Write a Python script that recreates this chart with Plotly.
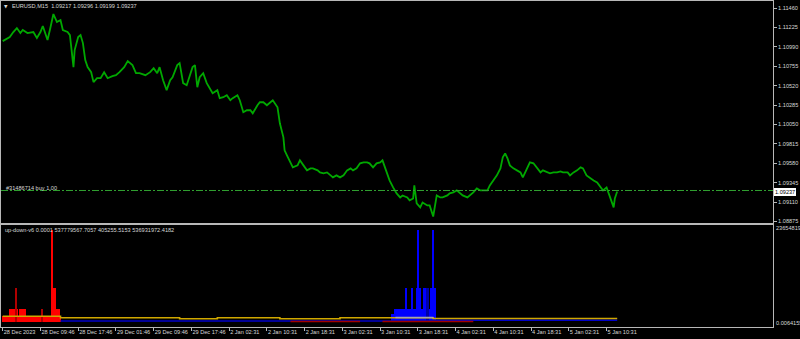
import plotly.graph_objects as go

# ---------------- data ----------------
symbol_text = "EURUSD,M15  1.09217 1.09296 1.09199 1.09237"
order_text = "#31486714 buy 1.00"
indicator_text = "up-down-v6 0.0001 537779567.7057 405255.5153 536931972.4182"

# price path (bar index, close)
price_bar = [0, 6, 9, 12, 15, 17, 21, 26, 29, 32, 34, 38, 40, 43, 46, 49, 51, 55, 57, 60,
             61, 64, 66, 68, 70, 72, 75, 77, 80, 83, 86, 89, 93, 96, 99, 103, 106, 110, 113, 116,
             121, 125, 128, 131, 133, 136, 139, 142, 144, 148, 150, 153, 156, 159, 161, 163, 165,
             167, 170, 173, 176, 178, 182, 184, 187, 190, 193, 195, 199, 201, 204, 207, 210, 212,
             216, 218, 221, 224, 227, 229, 233, 235, 238, 239, 241, 244, 246, 250, 252, 255, 258,
             261, 263, 267, 269, 272, 275, 278, 280, 283, 286, 289, 292, 295, 297, 300, 303, 306,
             309, 311, 314, 317, 320, 322,
             326, 328, 331, 334, 337, 339, 343, 345, 348, 349, 351, 354, 356, 360, 362, 365, 368,
             371, 373, 377, 379, 382, 385, 388, 390, 394, 396, 399, 402, 405, 407, 411, 413, 416,
             419, 422, 424, 426, 428, 430, 433, 436, 439, 441, 445, 447, 450, 453, 456, 458, 462,
             464, 467, 470, 473, 475, 479, 481, 484, 487, 490, 492, 495, 498, 501, 504, 507, 509,
             512, 515, 518, 519, 521]
price_val = [1.11059, 1.11108, 1.11169, 1.11217, 1.11157, 1.11193, 1.11157, 1.11169, 1.11096, 1.11169,
             1.11242, 1.11072, 1.11193, 1.11387, 1.11290, 1.11314, 1.11193, 1.11169, 1.11132, 1.10744,
             1.10950, 1.11108, 1.11132, 1.11035, 1.10829, 1.10744, 1.10683, 1.10562, 1.10610, 1.10610,
             1.10683, 1.10610, 1.10635, 1.10647, 1.10683, 1.10744, 1.10817, 1.10768, 1.10671, 1.10671,
             1.10647, 1.10683, 1.10732, 1.10671, 1.10744, 1.10586, 1.10465, 1.10586, 1.10622, 1.10768,
             1.10792, 1.10550, 1.10525, 1.10647, 1.10744, 1.10768, 1.10501,
             1.10622, 1.10671, 1.10550, 1.10465, 1.10428, 1.10465, 1.10368, 1.10380, 1.10404, 1.10343,
             1.10368, 1.10404, 1.10343, 1.10198, 1.10222, 1.10222, 1.10185, 1.10283, 1.10319, 1.10319,
             1.10283, 1.10319, 1.10343, 1.10258, 1.10064, 1.09894, 1.09736, 1.09676, 1.09591, 1.09530,
             1.09554, 1.09615, 1.09554, 1.09494, 1.09518, 1.09518, 1.09494, 1.09469, 1.09457, 1.09469,
             1.09433, 1.09409, 1.09433, 1.09409, 1.09433, 1.09494, 1.09518, 1.09494, 1.09518, 1.09579,
             1.09591, 1.09591, 1.09579, 1.09530, 1.09579, 1.09591, 1.09615,
             1.09457, 1.09372, 1.09287, 1.09215, 1.09166, 1.09190, 1.09166, 1.09130, 1.09154, 1.09312,
             1.09093, 1.09045, 1.09105, 1.09069, 1.09069, 1.08935, 1.09190, 1.09166, 1.09166, 1.09190,
             1.09215, 1.09227, 1.09251, 1.09215, 1.09190, 1.09166, 1.09190, 1.09227, 1.09275, 1.09251,
             1.09251, 1.09251, 1.09312, 1.09372, 1.09433, 1.09518, 1.09651, 1.09700, 1.09639, 1.09554,
             1.09518, 1.09494, 1.09469, 1.09409, 1.09518, 1.09591, 1.09579, 1.09530, 1.09469, 1.09494,
             1.09469, 1.09457, 1.09469, 1.09469, 1.09481, 1.09469, 1.09469, 1.09433, 1.09469, 1.09494,
             1.09530, 1.09518, 1.09433, 1.09397, 1.09372, 1.09348, 1.09287, 1.09251, 1.09287, 1.09166,
             1.09045, 1.09154, 1.09237]

bid_price = 1.09237
order_price = 1.09250

price_ticks = [1.11460, 1.11225, 1.10990, 1.10755, 1.10520, 1.10285, 1.10050,
               1.09815, 1.09580, 1.09345, 1.09110, 1.08875]

time_label_bars = [0, 32, 64, 96, 128, 160, 192, 224, 256, 288, 320, 352, 384, 416, 448, 480, 512]
time_labels = ["28 Dec 2023", "28 Dec 09:46", "28 Dec 17:46", "29 Dec 01:46", "29 Dec 09:46",
               "29 Dec 17:46", "2 Jan 02:31", "2 Jan 10:31", "2 Jan 18:31", "3 Jan 02:31",
               "3 Jan 10:31", "3 Jan 18:31", "4 Jan 02:31", "4 Jan 10:31", "4 Jan 18:31",
               "5 Jan 02:31", "5 Jan 10:31"]

sub_max = 236548195
sub_max_label = "236548195"
sub_min_label = "0.0064155"
hist_base = 12.0e6

# histogram blocks: (first bar, last bar, value)
red_blocks = [(0, 49, 25e6), (6, 12, 41.7e6), (15, 19, 41.7e6), (42, 42, 225e6),
              (43, 44, 90e6), (43, 46, 41.7e6), (48, 48, 41.7e6)]
darkred_blocks = [(11, 11, 90e6), (33, 33, 41.7e6)]
blue_blocks = [(330, 332, 30e6), (333, 338, 41.7e6), (339, 342, 41.7e6), (342, 342, 90e6),
               (344, 354, 41.7e6), (347, 347, 90e6), (351, 354, 90e6), (352, 352, 225e6),
               (355, 367, 41.7e6), (357, 359, 90e6), (363, 367, 90e6), (365, 365, 225e6)]
darkblue_blocks = [(360, 361, 90e6)]

# indicator lines (step points)
gold_bar = [0, 49, 150, 182, 235, 286, 365, 521]
gold_val = [23.9e6, 20.2e6, 17.9e6, 20.2e6, 17.9e6, 20.2e6, 18.6e6, 18.6e6]
gray_bar = [333, 365]
gray_val = [20.9e6, 20.9e6]
blue_line_bar = [49, 365, 521]
blue_line_val = [12.8e6, 14.6e6, 14.6e6]
red_line_segments = [([244, 303], [11.6e6, 11.6e6]), ([322, 399], [11.6e6, 11.6e6])]


def expand(blocks):
    vals = {}
    for a, b, v in blocks:
        for i in range(a, b + 1):
            vals[i] = max(vals.get(i, 0), v)
    xs = sorted(vals)
    return xs, [vals[i] - hist_base for i in xs]


# ---------------- figure ----------------
W, H = 800, 339
FONT = "Liberation Sans"
FS = 5.6
TXT = "#d8d8d8"
BORDER = "#b8b8b8"


def py(pix):
    return 1 - pix / H


fig = go.Figure()

fig.add_trace(go.Scatter(x=price_bar, y=price_val, mode="lines",
                         line=dict(color="#00a800", width=1.8), xaxis="x", yaxis="y",
                         hoverinfo="skip"))

for blocks, col in [(red_blocks, "#ff0000"), (darkred_blocks, "#b00000"),
                    (blue_blocks, "#0000ff"), (darkblue_blocks, "#0000a8")]:
    bx, bv = expand(blocks)
    fig.add_trace(go.Bar(x=bx, y=bv, base=hist_base, width=1.0, marker=dict(color=col, line=dict(width=0)),
                         xaxis="x2", yaxis="y2", hoverinfo="skip"))

fig.add_trace(go.Scatter(x=blue_line_bar, y=blue_line_val, mode="lines", line_shape="hv",
                         line=dict(color="#0000c8", width=1.5), xaxis="x2", yaxis="y2"))
for sx, sy in red_line_segments:
    fig.add_trace(go.Scatter(x=sx, y=sy, mode="lines", line=dict(color="#a00000", width=1.5),
                             xaxis="x2", yaxis="y2"))
fig.add_trace(go.Scatter(x=gold_bar, y=gold_val, mode="lines", line_shape="hv",
                         line=dict(color="#d0a800", width=1.6), xaxis="x2", yaxis="y2"))
fig.add_trace(go.Scatter(x=gray_bar, y=gray_val, mode="lines",
                         line=dict(color="#a8a8a8", width=1.5), xaxis="x2", yaxis="y2"))

x_range = [-1.44, 653.1]
dom_x = [1 / W, 773 / W]

fig.update_layout(
    width=W, height=H, margin=dict(l=0, r=0, t=0, b=0),
    paper_bgcolor="black", plot_bgcolor="black", showlegend=False,
    barmode="overlay", bargap=0,
    font=dict(family=FONT, size=FS, color=TXT),
    xaxis=dict(domain=dom_x, range=x_range, anchor="y", showgrid=False, zeroline=False,
               showticklabels=False, ticks="", showline=True, mirror=True, linecolor=BORDER,
               linewidth=1),
    yaxis=dict(domain=[py(222.5), py(1)], range=[1.088623, 1.115450], side="right",
               tickvals=price_ticks, ticktext=[f"{v:.5f}" for v in price_ticks],
               ticks="outside", ticklen=3, tickcolor=BORDER, showgrid=False, zeroline=False,
               showline=True, mirror=True, linecolor=BORDER, linewidth=1, automargin=False,
               tickfont=dict(family=FONT, size=FS, color=TXT)),
    xaxis2=dict(domain=dom_x, range=x_range, anchor="y2", matches="x", showgrid=False,
                zeroline=False, tickvals=time_label_bars, ticktext=time_labels, tickangle=0,
                ticks="outside", ticklen=3, tickcolor=BORDER, ticklabelposition="outside right",
                showline=True, mirror=True, linecolor=BORDER, linewidth=1, automargin=False,
                tickfont=dict(family=FONT, size=FS, color=TXT)),
    yaxis2=dict(domain=[py(326.5), py(224.5)], range=[0, sub_max], side="right", anchor="x2",
                showticklabels=False, ticks="", showgrid=False, zeroline=False,
                showline=True, mirror=True, linecolor=BORDER, linewidth=1, automargin=False),
)

# order line
fig.add_shape(type="line", xref="x domain", yref="y", x0=0, x1=1, y0=order_price, y1=order_price,
              line=dict(color="#30a030", width=1, dash="7px,2px,2px,2px"))

ann = [
    dict(text="▼", x=3 / W, y=py(6), xanchor="left", yanchor="middle",
         font=dict(family="DejaVu Sans", size=4.5, color=TXT)),
    dict(text=symbol_text, x=11 / W, y=py(6), xanchor="left", yanchor="middle"),
    dict(text=order_text, x=5 / W, y=py(187.5), xanchor="left", yanchor="middle"),
    dict(text=indicator_text, x=4 / W, y=py(230), xanchor="left", yanchor="middle"),
    dict(text=sub_max_label, x=775 / W, y=py(227.5), xanchor="left", yanchor="middle"),
    dict(text=sub_min_label, x=775 / W, y=py(322.5), xanchor="left", yanchor="middle"),
]
for a in ann:
    a.update(xref="paper", yref="paper", showarrow=False, borderpad=0)
    a.setdefault("font", dict(family=FONT, size=FS, color=TXT))
    fig.add_annotation(**a)

fig.add_annotation(text=f"{bid_price:.5f}", xref="paper", yref="y", x=773.5 / W, y=bid_price,
                   xanchor="left", yanchor="middle", showarrow=False, bgcolor="white",
                   bordercolor="white", borderwidth=0, borderpad=1,
                   font=dict(family=FONT, size=FS, color="black"))

fig.write_html("out.html")
